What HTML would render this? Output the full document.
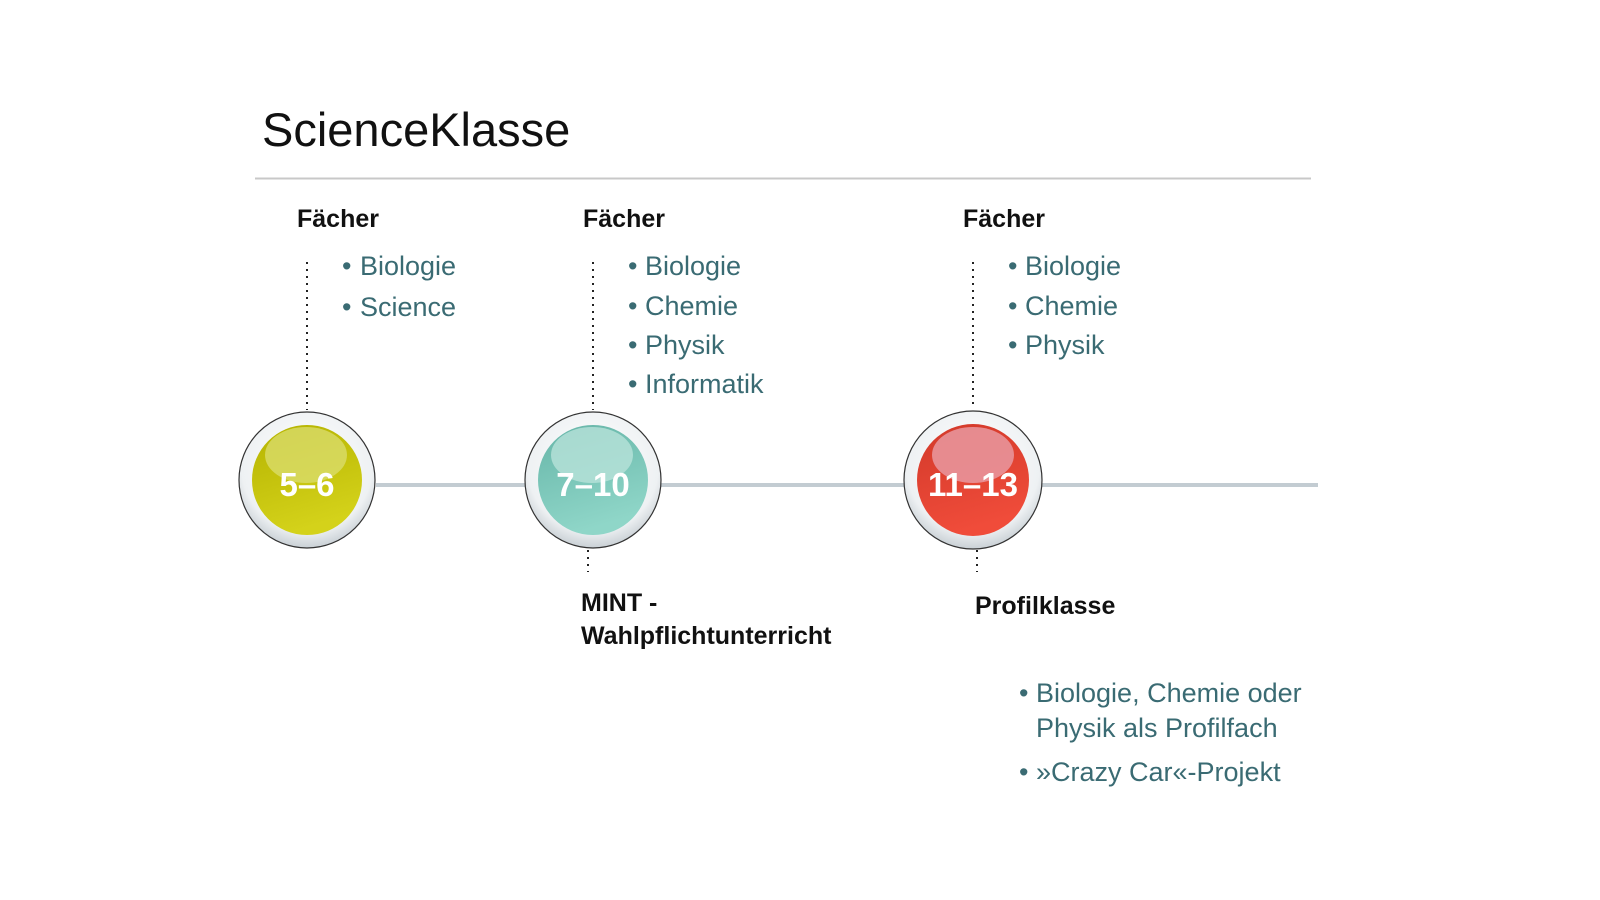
<!DOCTYPE html>
<html><head><meta charset="utf-8"><style>
html,body{margin:0;padding:0;background:#fff;}
svg{display:block;}
.t{font-family:"Liberation Sans",Arial,sans-serif;}
.h{font-weight:bold;font-size:25px;fill:#111;}
.b{font-size:27px;fill:#3a6b73;}
.n{font-weight:bold;font-size:33px;fill:#fff;}
</style></head><body>
<svg width="1600" height="900" viewBox="0 0 1600 900" xmlns="http://www.w3.org/2000/svg">
<defs>
<radialGradient id="ring" cx="50%" cy="40%" r="60%">
<stop offset="0" stop-color="#ffffff"/><stop offset="0.8" stop-color="#eef1f3"/><stop offset="1" stop-color="#c9d0d5"/>
</radialGradient>
<linearGradient id="gy" x1="0" y1="0" x2="0.3" y2="1"><stop offset="0" stop-color="#b5b300"/><stop offset="1" stop-color="#d4d21a"/></linearGradient>
<linearGradient id="gt" x1="0" y1="0" x2="0.3" y2="1"><stop offset="0" stop-color="#66b5a8"/><stop offset="1" stop-color="#8fd6c8"/></linearGradient>
<linearGradient id="gr" x1="0" y1="0" x2="0.3" y2="1"><stop offset="0" stop-color="#d2392a"/><stop offset="1" stop-color="#f04c3a"/></linearGradient>
</defs>
<text x="262" y="146" class="t" font-size="47" fill="#111">ScienceKlasse</text>
<line x1="255" y1="178.5" x2="1311" y2="178.5" stroke="#c8c8c8" stroke-width="2"/>
<line x1="376" y1="485" x2="1318" y2="485" stroke="#c3ccd2" stroke-width="4"/>
<g stroke="#222" stroke-width="2" stroke-dasharray="2 5">
<line x1="307" y1="262" x2="307" y2="410"/>
<line x1="593" y1="262" x2="593" y2="410"/>
<line x1="973" y1="262" x2="973" y2="408"/>
<line x1="588" y1="550" x2="588" y2="572"/>
<line x1="977" y1="550" x2="977" y2="572"/>
</g>
<g>
<circle cx="307" cy="480" r="68" fill="url(#ring)" stroke="#333" stroke-width="1.2"/>
<circle cx="307" cy="480" r="55" fill="url(#gy)"/>
<ellipse cx="306" cy="455" rx="41" ry="28" fill="#d9dc6a" opacity="0.8"/>
<text x="307" y="496" text-anchor="middle" class="t n">5–6</text>
<circle cx="593" cy="480" r="68" fill="url(#ring)" stroke="#333" stroke-width="1.2"/>
<circle cx="593" cy="480" r="55" fill="url(#gt)"/>
<ellipse cx="592" cy="455" rx="41" ry="28" fill="#b8e2da" opacity="0.8"/>
<text x="593" y="496" text-anchor="middle" class="t n">7–10</text>
<circle cx="973" cy="480" r="69" fill="url(#ring)" stroke="#333" stroke-width="1.2"/>
<circle cx="973" cy="480" r="56" fill="url(#gr)"/>
<ellipse cx="973" cy="455" rx="41" ry="28" fill="#e8949a" opacity="0.9"/>
<text x="973" y="496" text-anchor="middle" class="t n">11–13</text>
</g>
<g class="t">
<text x="297" y="227" class="h">Fächer</text>
<text x="583" y="227" class="h">Fächer</text>
<text x="963" y="227" class="h">Fächer</text>
<text x="342" y="275" class="b">•</text><text x="360" y="275" class="b">Biologie</text>
<text x="342" y="316" class="b">•</text><text x="360" y="316" class="b">Science</text>
<text x="628" y="275" class="b">•</text><text x="645" y="275" class="b">Biologie</text>
<text x="628" y="315" class="b">•</text><text x="645" y="315" class="b">Chemie</text>
<text x="628" y="354" class="b">•</text><text x="645" y="354" class="b">Physik</text>
<text x="628" y="393" class="b">•</text><text x="645" y="393" class="b">Informatik</text>
<text x="1008" y="275" class="b">•</text><text x="1025" y="275" class="b">Biologie</text>
<text x="1008" y="315" class="b">•</text><text x="1025" y="315" class="b">Chemie</text>
<text x="1008" y="354" class="b">•</text><text x="1025" y="354" class="b">Physik</text>
<text x="581" y="611" class="h">MINT -</text>
<text x="581" y="644" class="h">Wahlpflichtunterricht</text>
<text x="975" y="614" class="h">Profilklasse</text>
<text x="1019" y="702" class="b">•</text><text x="1036" y="702" class="b">Biologie, Chemie oder</text>
<text x="1036" y="737" class="b">Physik als Profilfach</text>
<text x="1019" y="781" class="b">•</text><text x="1036" y="781" class="b">»Crazy Car«-Projekt</text>
</g>
</svg>
</body></html>
